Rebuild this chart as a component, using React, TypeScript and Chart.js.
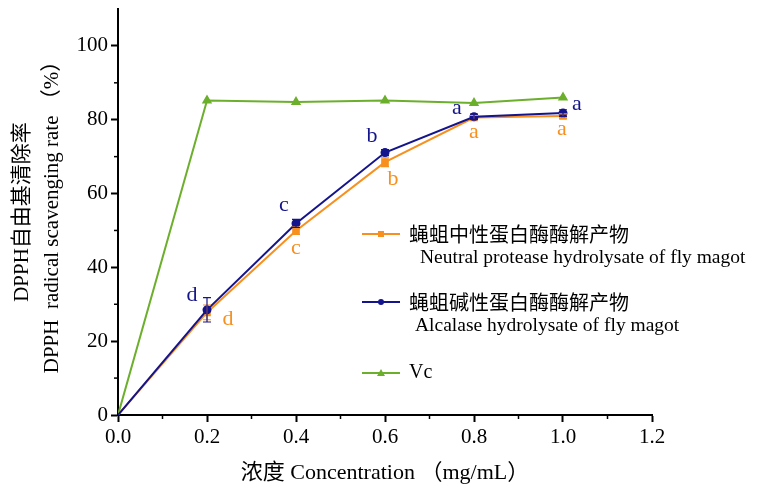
import React, { useEffect, useRef } from "react";
import { Chart, registerables } from "chart.js";

Chart.register(...registerables);

const concentrations = [0, 0.2, 0.4, 0.6, 0.8, 1.0];
const neutralValues = [0, 27.8, 49.9, 68.5, 80.6, 81.0];
const neutralErrors = [0, 2.0, 1.0, 1.2, 0.6, 0.6];
const alcalaseValues = [0, 28.5, 51.9, 71.1, 80.8, 81.8];
const alcalaseErrors = [0, 3.3, 1.1, 0.8, 0.7, 0.9];
const vcValues = [0, 85.2, 84.8, 85.2, 84.5, 86.0];
const neutralLetters = ["", "d", "c", "b", "a", "a"];
const alcalaseLetters = ["", "d", "c", "b", "a", "a"];
const yMajorTicks = [0, 20, 40, 60, 80, 100];
const yMinorTicks = [10, 30, 50, 70, 90];
const xMinorTicks = [0.1, 0.3, 0.5, 0.7, 0.9, 1.1];

const legendZh = ["蝇蛆中性蛋白酶酶解产物", "蝇蛆碱性蛋白酶酶解产物", "Vc"];
const legendEn = ["Neutral protease hydrolysate of fly magot", "Alcalase hydrolysate of fly magot", ""];

const ORANGE = "#F7901E";
const BLUE = "#14148C";
const GREEN = "#6CAF2C";
const SERIF = "'Liberation Serif', 'Times New Roman', 'Noto Sans CJK SC', serif";
const ZH = "'Noto Sans CJK SC', 'Liberation Serif', serif";

// label offsets (style)
const alcalaseLabelOffsets = [[0, 0], [-15, -15], [-12, -18], [-13, -16], [-17, -9], [14, -9]];
const neutralLabelOffsets = [[0, 0], [21, 7], [0, 17], [8, 17], [0, 15], [-1, 13]];

const toPts = (vals: number[]) => concentrations.map((x, i) => ({ x, y: vals[i] }));

const extrasPlugin = {
  id: "extras",
  afterDatasetsDraw(chart: any) {
    const { ctx, scales, chartArea } = chart;
    const xs = scales.x;
    const ys = scales.y;
    ctx.save();
    // minor ticks
    ctx.strokeStyle = "#000";
    ctx.lineWidth = 1.5;
    yMinorTicks.forEach((v) => {
      const py = ys.getPixelForValue(v);
      ctx.beginPath();
      ctx.moveTo(chartArea.left - 4, py);
      ctx.lineTo(chartArea.left, py);
      ctx.stroke();
    });
    xMinorTicks.forEach((v) => {
      const px = xs.getPixelForValue(v);
      ctx.beginPath();
      ctx.moveTo(px, chartArea.bottom);
      ctx.lineTo(px, chartArea.bottom + 4);
      ctx.stroke();
    });
    // error bars
    const drawErr = (vals: number[], errs: number[], color: string) => {
      ctx.strokeStyle = color;
      ctx.lineWidth = 1.2;
      concentrations.forEach((x, i) => {
        if (!errs[i]) return;
        const px = xs.getPixelForValue(x);
        const top = ys.getPixelForValue(vals[i] + errs[i]);
        const bot = ys.getPixelForValue(vals[i] - errs[i]);
        ctx.beginPath();
        ctx.moveTo(px, top);
        ctx.lineTo(px, bot);
        ctx.moveTo(px - 4, top);
        ctx.lineTo(px + 4, top);
        ctx.moveTo(px - 4, bot);
        ctx.lineTo(px + 4, bot);
        ctx.stroke();
      });
    };
    drawErr(neutralValues, neutralErrors, ORANGE);
    drawErr(alcalaseValues, alcalaseErrors, BLUE);
    // letters
    ctx.font = `22px ${SERIF}`;
    ctx.textAlign = "center";
    ctx.textBaseline = "middle";
    const drawLetters = (vals: number[], letters: string[], offs: number[][], color: string) => {
      ctx.fillStyle = color;
      concentrations.forEach((x, i) => {
        if (!letters[i]) return;
        const px = xs.getPixelForValue(x);
        const py = ys.getPixelForValue(vals[i]);
        ctx.fillText(letters[i], px + offs[i][0], py + offs[i][1]);
      });
    };
    drawLetters(alcalaseValues, alcalaseLetters, alcalaseLabelOffsets, BLUE);
    drawLetters(neutralValues, neutralLetters, neutralLabelOffsets, ORANGE);

    // legend
    const colors = [ORANGE, BLUE, GREEN];
    const shapes = ["rect", "circle", "triangle"];
    const lx = 362;
    const rows = [234, 302, 373];
    const enX = [420, 415, 0];
    rows.forEach((ry, i) => {
      ctx.strokeStyle = colors[i];
      ctx.fillStyle = colors[i];
      ctx.lineWidth = 2;
      ctx.beginPath();
      ctx.moveTo(lx, ry);
      ctx.lineTo(lx + 38, ry);
      ctx.stroke();
      const cx = lx + 19;
      ctx.beginPath();
      if (shapes[i] === "rect") {
        ctx.fillRect(cx - 3, ry - 3, 6, 6);
      } else if (shapes[i] === "circle") {
        ctx.arc(cx, ry, 3, 0, Math.PI * 2);
        ctx.fill();
      } else {
        ctx.moveTo(cx, ry - 4);
        ctx.lineTo(cx + 4, ry + 3);
        ctx.lineTo(cx - 4, ry + 3);
        ctx.closePath();
        ctx.fill();
      }
      ctx.fillStyle = "#000";
      ctx.textAlign = "left";
      ctx.textBaseline = "middle";
      ctx.font = i === 2 ? `20px ${SERIF}` : `20px ${ZH}`;
      ctx.fillText(legendZh[i], 409, ry);
      if (legendEn[i]) {
        ctx.font = `19.5px ${SERIF}`;
        ctx.fillText(legendEn[i], enX[i], ry + 24);
      }
    });
    ctx.restore();
  },
};

export default function App() {
  const ref = useRef<HTMLCanvasElement | null>(null);
  useEffect(() => {
    if (!ref.current) return;
    const chart = new Chart(ref.current, {
      type: "line",
      data: {
        datasets: [
          {
            label: "alcalase",
            data: toPts(alcalaseValues),
            borderColor: BLUE,
            backgroundColor: BLUE,
            borderWidth: 2,
            pointStyle: "circle",
            pointRadius: concentrations.map((_, i) => (i === 0 ? 0 : 3.5)),
          },
          {
            label: "neutral",
            data: toPts(neutralValues),
            borderColor: ORANGE,
            backgroundColor: ORANGE,
            borderWidth: 2,
            pointStyle: "rect",
            pointRadius: concentrations.map((_, i) => (i === 0 ? 0 : 4)),
          },
          {
            label: "Vc",
            data: toPts(vcValues),
            borderColor: GREEN,
            backgroundColor: GREEN,
            borderWidth: 2,
            pointStyle: "triangle",
            pointRadius: concentrations.map((_, i) => (i === 0 ? 0 : 4)),
          },
        ],
      },
      options: {
        animation: false,
        responsive: true,
        maintainAspectRatio: false,
        layout: { padding: { left: 0, right: 119, top: 9, bottom: 0 } },
        plugins: { legend: { display: false }, tooltip: { enabled: false } },
        scales: {
          x: {
            type: "linear",
            min: 0,
            max: 1.2,
            afterFit: (s: any) => {
              s.height = 75;
              s.paddingLeft = 0;
              s.paddingRight = 0;
            },
            ticks: {
              stepSize: 0.2,
              color: "#000",
              font: { family: SERIF, size: 21 },
              padding: 3,
              callback: (v: any) => Number(v).toFixed(1),
            },
            grid: {
              drawOnChartArea: false,
              drawTicks: true,
              tickLength: 7,
              tickColor: "#000",
              tickWidth: 2,
            },
            border: { display: true, color: "#000", width: 2 },
            title: {
              display: true,
              text: "浓度 Concentration （mg/mL）",
              color: "#000",
              font: { family: SERIF, size: 22, lineHeight: 1.1 },
              padding: { top: 0, bottom: 5 },
            },
          },
          y: {
            min: 0,
            max: 110,
            afterFit: (s: any) => {
              s.width = 118;
              s.paddingTop = 0;
              s.paddingBottom = 0;
            },
            afterBuildTicks: (s: any) => {
              s.ticks = yMajorTicks.map((v) => ({ value: v }));
            },
            ticks: {
              color: "#000",
              font: { family: SERIF, size: 21 },
              padding: 3,
            },
            grid: {
              drawOnChartArea: false,
              drawTicks: true,
              tickLength: 7,
              tickColor: "#000",
              tickWidth: 2,
            },
            border: { display: true, color: "#000", width: 2 },
            title: {
              display: true,
              text: ["DPPH自由基清除率", "DPPH  radical scavenging rate （%）"],
              color: "#000",
              font: { family: SERIF, size: 21, lineHeight: 1.45 },
              padding: { top: 7, bottom: 0 },
            },
          },
        },
      },
      plugins: [extrasPlugin],
    });
    return () => chart.destroy();
  }, []);
  return (
    <div style={{ position: "fixed", left: 0, top: 0, width: 771, height: 490, background: "#fff" }}>
      <canvas ref={ref} />
    </div>
  );
}
